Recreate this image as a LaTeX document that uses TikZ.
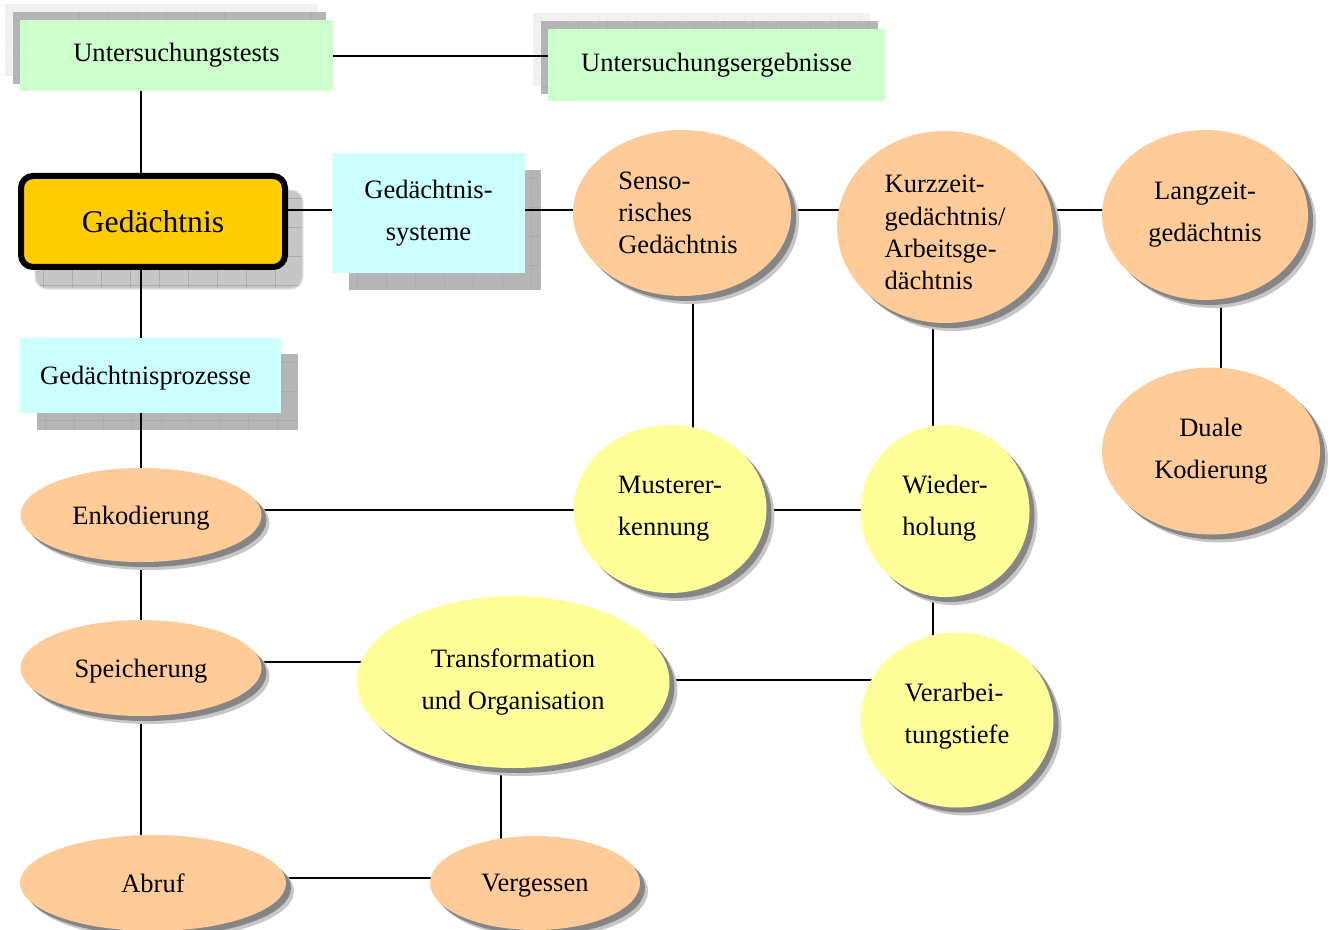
\documentclass[tikz,border=0pt]{standalone}
\usepackage{fontspec}
\setmainfont{Liberation Serif}
\usetikzlibrary{shapes.geometric,shadows}
\pgfdeclarelayer{boxshadow}
\pgfdeclarelayer{lines}
\pgfsetlayers{boxshadow,lines,main}

\definecolor{mint}{HTML}{CCFFCC}
\definecolor{ice}{HTML}{CCFFFF}
\definecolor{goldbox}{HTML}{FFCC00}
\definecolor{peach}{HTML}{FFCC99}
\definecolor{lemon}{HTML}{FFFF99}
\definecolor{tiledark}{HTML}{B5B5B5}
\definecolor{tilegrid}{HTML}{ABABAB}
\definecolor{tilelight}{HTML}{F1F1F1}
\definecolor{tilelightgrid}{HTML}{EAEAEA}
\definecolor{tilemid}{HTML}{C6C6C6}
\definecolor{tileedge}{HTML}{E4E4E4}

% textured shadow patch: x1 y1 x2 y2 fill grid corner-radius
\newcommand\tilepatch[7]{%
  \begin{scope}
    \clip[rounded corners=#7] (#1,#2) rectangle (#3,#4);
    \fill[#5] (#1,#2) rectangle (#3,#4);
    \foreach \gx in {0,29,...,580}{\draw[#6,line width=0.6pt] (#1+\gx+8,#2) -- (#1+\gx+8,#4);}
    \foreach \gx in {0,29,...,150}{\draw[#6,line width=0.6pt] (#1,#2+\gx+8) -- (#3,#2+\gx+8);}
  \end{scope}}

\begin{document}
\begin{tikzpicture}[x=0.75pt,y=-0.75pt,
  lbl/.style={font=\fontsize{19.9}{23.9}\selectfont, text=black, inner sep=0pt, outer sep=0pt},
  wide/.style={font=\fontsize{19.9}{31.5}\selectfont},
  sz/.style 2 args={minimum width=#1*0.75pt, minimum height=#2*0.75pt},
  oval/.style={ellipse, lbl,
    general shadow={fill=black!22, shadow xshift=6pt, shadow yshift=-6pt},
    general shadow={fill=black!48, shadow xshift=3.75pt, shadow yshift=-3.75pt}},
  conn/.style={line width=1.5pt, black}]

\useasboundingbox (0,0) rectangle (1330,930);

% helper rows and columns for the connectors
\coordinate (rA) at (0,56);
\coordinate (r1) at (0,210);
\coordinate (r2) at (0,510);
\coordinate (r3) at (0,662);
\coordinate (r4) at (0,680);
\coordinate (r5) at (0,878);
\coordinate (c1) at (141,0);
\coordinate (c2) at (693,0);
\coordinate (c3) at (933,0);
\coordinate (c4) at (1221,0);
\coordinate (c5) at (501,0);

% rectangular boxes
\node[lbl, fill=mint, sz={313}{71}] (tests) at (176.5,55.5) {Untersuchungstests};
\node[lbl, fill=mint, sz={337}{72}] (erg) at (716.5,65) {Untersuchungsergebnisse};
\node[lbl, draw=black, line width=4.5pt, rounded corners=9pt, fill=goldbox, sz={264}{91},
      font=\fontsize{23.7}{28}\selectfont] (ged) at (153,221.5) {Gedächtnis};
\node[lbl, wide, fill=ice, sz={193}{120}, align=center] (syst) at (428.5,213) {Gedächtnis-\\systeme};
\node[lbl, fill=ice, sz={261}{75}, text depth=0pt] (proz) at (150.5,375.5) {\hspace*{-7.5pt}Gedächtnisprozesse};

% ellipses
\node[oval, fill=peach, sz={218}{166}, align=left] (sens) at (682,213)
  {Senso-\\risches\\Gedächtnis\hspace*{6pt}};
\node[oval, fill=peach, sz={216}{192}, align=left, font=\fontsize{19.9}{24.2}\selectfont]
  (kurz) at (945,227) {\rule{0pt}{21.4pt}Kurzzeit-\\gedächtnis/\\Arbeitsge-\\dächtnis};
\node[oval, wide, fill=peach, sz={206}{170}, align=center] (lang) at (1205,215) {Langzeit-\\gedächtnis};
\node[oval, wide, fill=peach, sz={218}{167}, align=center] (dual) at (1211,451) {Duale\\Kodierung};
\node[oval, fill=peach, sz={241}{94}, text depth=0pt] (enk) at (141,515) {Enkodierung};
\node[oval, wide, fill=lemon, sz={193}{168}, align=left] (must) at (670,509) {Musterer-\\kennung};
\node[oval, wide, fill=lemon, sz={169}{172}, align=left, text depth=8.9pt] (wied) at (945,511) {Wieder-\\holung};
\node[oval, fill=peach, sz={241}{96}, text depth=0pt] (speich) at (141,668) {Speicherung};
\node[oval, wide, fill=lemon, sz={313}{172}, align=center] (trans) at (513,682) {Transformation\\und Organisation};
\node[oval, wide, fill=lemon, sz={193}{175}, align=left, text depth=10.4pt] (verar) at (957,720) {Verarbei-\\tungstiefe};
\node[oval, fill=peach, sz={266}{96}] (abruf) at (153,883) {Abruf};
\node[oval, fill=peach, sz={210}{94}, text depth=0pt] (verg) at (535,883) {Vergessen};

% textured shadows behind the boxes
\begin{pgfonlayer}{boxshadow}
  \tilepatch{5}{4}{318}{76}{tilelight}{tilelightgrid}{0pt}
  \tilepatch{13}{12}{326}{84}{tiledark}{tilegrid}{0pt}
  \tilepatch{533}{13}{870}{86}{tilelight}{tilelightgrid}{0pt}
  \tilepatch{541}{21}{878}{94}{tiledark}{tilegrid}{0pt}
  \tilepatch{35}{190}{303}{289}{tilemid}{tilegrid}{9pt}
  \draw[tileedge, line width=1pt, rounded corners=9pt] (35,190) rectangle (303,289);
  \tilepatch{349}{170}{541}{290}{tiledark}{tilegrid}{0pt}
  \tilepatch{37}{354}{298}{430}{tiledark}{tilegrid}{0pt}
\end{pgfonlayer}

% connectors
\begin{pgfonlayer}{lines}
  \draw[conn] (tests |- rA) -- (erg |- rA);
  \draw[conn] (tests.south -| c1) -- (ged.north -| c1);
  \draw[conn] (ged.south -| c1) -- (proz.north -| c1);
  \draw[conn] (proz.south -| c1) -- (enk);
  \draw[conn] (enk) -- (speich);
  \draw[conn] (speich) -- (abruf.north -| c1);
  \draw[conn] (ged |- r1) -- (syst |- r1);
  \draw[conn] (syst |- r1) -- (sens |- r1);
  \draw[conn] (sens |- r1) -- (kurz |- r1);
  \draw[conn] (kurz |- r1) -- (lang |- r1);
  \draw[conn] (lang -| c4) -- (dual -| c4);
  \draw[conn] (sens -| c2) -- (must -| c2);
  \draw[conn] (kurz -| c3) -- (wied -| c3);
  \draw[conn] (wied -| c3) -- (verar -| c3);
  \draw[conn] (enk |- r2) -- (must |- r2);
  \draw[conn] (must |- r2) -- (wied |- r2);
  \draw[conn] (speich |- r3) -- (trans |- r3);
  \draw[conn] (trans |- r4) -- (verar |- r4);
  \draw[conn] (trans -| c5) -- (verg -| c5);
  \draw[conn] (abruf |- r5) -- (verg |- r5);
\end{pgfonlayer}
\end{tikzpicture}
\end{document}
